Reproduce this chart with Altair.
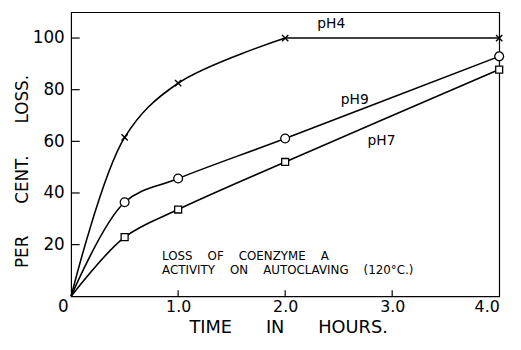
import altair as alt
import pandas as pd

# ---- data ----
hours = [0.0, 0.5, 1.0, 2.0, 4.0]
ph4 = [0.0, 61.5, 82.5, 100.0, 100.0]
ph9 = [0.0, 36.4, 45.6, 61.1, 92.9]
ph7 = [0.0, 22.9, 33.6, 52.0, 87.8]
series_names = ["pH4", "pH9", "pH7"]

x_tick_values = [1.0, 2.0, 3.0, 4.0]
x_inner_ticks = [1.0, 2.0, 3.0]
y_tick_values = [20, 40, 60, 80, 100]

label_text = ["pH4", "pH9", "pH7"]
label_x = [2.30, 2.52, 2.77]
label_y = [105.3, 76.0, 60.3]

NB = "\u00a0"
GAP4 = " " + NB * 3
GAP6 = " " + NB * 5
note_text = ("LOSS" + GAP4 + "OF" + GAP4 + "COENZYME" + GAP4 + "A" + "\n"
             + "ACTIVITY" + GAP4 + "ON" + GAP4 + "AUTOCLAVING" + GAP4 + "(120°C.)")
note_x = [0.85]
note_y = [14.2]

x_title = "TIME" + GAP6 + "IN" + GAP6 + "HOURS."
y_title = "PER" + GAP6 + "CENT." + GAP6 + "LOSS."

FONT = "DejaVu Sans"

rows = []
for name, vals in zip(series_names, [ph4, ph9, ph7]):
    for h, v in zip(hours, vals):
        rows.append({"series": name, "hours": h, "loss": v})
df = pd.DataFrame(rows)
pts = df[df["hours"] > 0]

xs = alt.Scale(domain=[0, 4], nice=False, zero=False)
ys = alt.Scale(domain=[0, 110], nice=False)

x_enc = alt.X(
    "hours:Q", scale=xs,
    axis=alt.Axis(values=x_tick_values, format=".1f", ticks=False, grid=False,
                  domain=False, labelFontSize=16, labelPadding=2,
                  labelColor="black", labelFont=FONT,
                  title=x_title, titleFont=FONT, titleFontSize=18,
                  titleFontWeight="normal", titleColor="black",
                  titleX=220, titleY=37, titleBaseline="alphabetic",
                  titleAlign="center", titleAnchor="middle"),
)
y_enc = alt.Y(
    "loss:Q", scale=ys,
    axis=alt.Axis(values=y_tick_values, ticks=False, grid=False, domain=False,
                  labelFontSize=17, labelPadding=7, labelColor="black",
                  labelFont=FONT,
                  title=y_title, titleFont=FONT, titleFontSize=17,
                  titleFontWeight="normal", titleColor="black",
                  titleX=-49, titleY=161, titleBaseline="middle",
                  titleAlign="center", titleAngle=270),
)

curve_part = alt.Chart(df).transform_filter(
    (alt.datum.series != "pH4") | (alt.datum.hours <= 2)
).mark_line(
    interpolate="catmull-rom", color="black", strokeWidth=1.6
).encode(x=x_enc, y=y_enc, detail="series:N")

flat_part = alt.Chart(df).transform_filter(
    (alt.datum.series == "pH4") & (alt.datum.hours >= 2)
).mark_line(color="black", strokeWidth=1.6).encode(
    x=alt.X("hours:Q", scale=xs), y=alt.Y("loss:Q", scale=ys))

xmarks = alt.Chart(pts).transform_filter(alt.datum.series == "pH4").mark_point(
    shape="M-1,-1L1,1M-1,1L1,-1", filled=False, color="black",
    strokeWidth=1.4, size=40, opacity=1
).encode(x=alt.X("hours:Q", scale=xs), y=alt.Y("loss:Q", scale=ys))

circles = alt.Chart(pts).transform_filter(alt.datum.series == "pH9").mark_point(
    shape="circle", filled=True, fill="white", stroke="black",
    strokeWidth=1.3, size=80, opacity=1
).encode(x=alt.X("hours:Q", scale=xs), y=alt.Y("loss:Q", scale=ys))

squares = alt.Chart(pts).transform_filter(alt.datum.series == "pH7").mark_point(
    shape="square", filled=True, fill="white", stroke="black",
    strokeWidth=1.3, size=50, opacity=1
).encode(x=alt.X("hours:Q", scale=xs), y=alt.Y("loss:Q", scale=ys))

# inward tick marks
ytick_df = pd.DataFrame({"v": y_tick_values, "x0": [0.0] * 5, "x1": [0.08] * 5})
yticks = alt.Chart(ytick_df).mark_rule(color="black", strokeWidth=1.2).encode(
    x=alt.X("x0:Q", scale=xs), x2="x1:Q", y=alt.Y("v:Q", scale=ys))
xtick_df = pd.DataFrame({"v": x_inner_ticks, "y0": [0.0] * 3, "y1": [2.3] * 3})
xticks = alt.Chart(xtick_df).mark_rule(color="black", strokeWidth=1.2).encode(
    x=alt.X("v:Q", scale=xs), y=alt.Y("y0:Q", scale=ys), y2="y1:Q")

# origin "0"
origin = alt.Chart(pd.DataFrame({"x": [0.0], "y": [0.0], "t": ["0"]})).mark_text(
    font=FONT, fontSize=17, color="black", dx=-8, dy=11, align="center",
    baseline="middle"
).encode(x=alt.X("x:Q", scale=xs), y=alt.Y("y:Q", scale=ys), text="t:N")

labels = alt.Chart(pd.DataFrame({"x": label_x, "y": label_y, "t": label_text})).mark_text(
    font=FONT, fontSize=14, color="black", align="left", baseline="middle"
).encode(x=alt.X("x:Q", scale=xs), y=alt.Y("y:Q", scale=ys), text="t:N")

note = alt.Chart(pd.DataFrame({"x": note_x, "y": note_y, "t": [note_text]})).mark_text(
    font=FONT, fontSize=12, color="black", align="left", baseline="alphabetic",
    lineBreak="\n", lineHeight=14.5
).encode(x=alt.X("x:Q", scale=xs), y=alt.Y("y:Q", scale=ys), text="t:N")

chart = alt.layer(
    curve_part, flat_part, xmarks, circles, squares, yticks, xticks,
    origin, labels, note
).properties(
    width=434, height=288,
    autosize=alt.AutoSizeParams(type="none"),
    padding={"left": 64, "top": 2, "right": 14, "bottom": 38},
    background="white",
).configure_view(
    stroke="black", strokeWidth=1.2
)

chart.save("out.html", embed_options={"renderer": "svg", "actions": False})
